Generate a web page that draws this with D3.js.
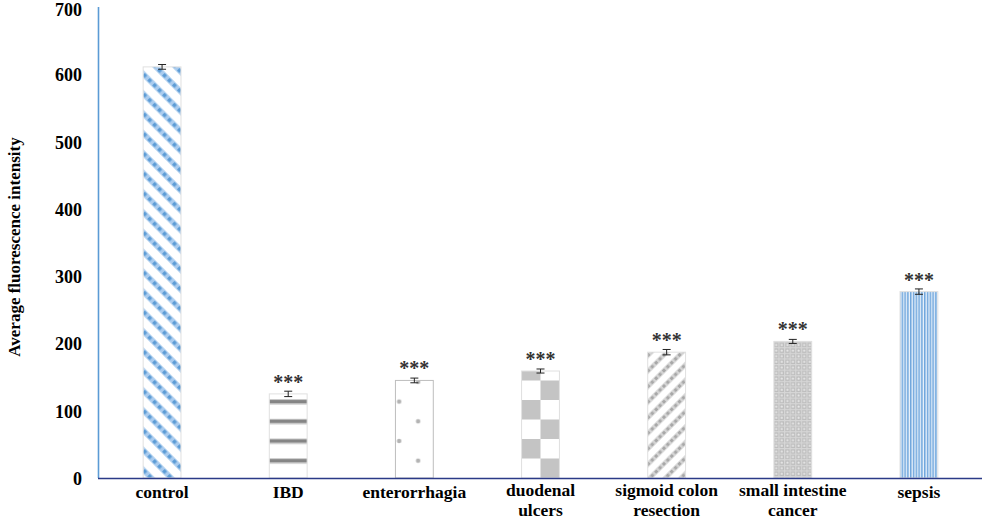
<!DOCTYPE html>
<html>
<head>
<meta charset="utf-8">
<script src="https://cdn.jsdelivr.net/npm/d3@7"></script>
<style>
  html, body { margin: 0; padding: 0; background: #fff; }
  svg { display: block; }
  text { font-family: "Liberation Serif", "Times New Roman", serif; font-weight: bold; }
</style>
</head>
<body>
<svg id="chart" width="982" height="520"></svg>
<script>
const categories = ["control", "IBD", "enterorrhagia", "duodenal ulcers", "sigmoid colon resection", "small intestine cancer", "sepsis"];
const labelLines = [["control"], ["IBD"], ["enterorrhagia"], ["duodenal", "ulcers"], ["sigmoid colon", "resection"], ["small intestine", "cancer"], ["sepsis"]];
const values = [611, 125, 145, 159, 187, 203, 277];
const errors = [3.5, 4, 3.5, 3, 4, 3, 4];
const significance = ["", "***", "***", "***", "***", "***", "***"];
const yTicks = [0, 100, 200, 300, 400, 500, 600, 700];
const patternIds = ["pControl", "pIBD", "pEnter", "pDuod", "pSigm", "pSmall", "pSeps"];

const svg = d3.select("#chart");
const x0 = 99, x1 = 982, yBase = 478, yTop = 7;

const x = d3.scaleBand().domain(categories).range([x0, x1]).paddingInner(0.7).paddingOuter(0.35);
const y = d3.scaleLinear().domain([0, 700]).range([yBase, yTop]);
const bw = x.bandwidth();

// ---------- patterns ----------
const defs = svg.append("defs");

// control: blue dotted diagonal stripes "\"
let p = defs.append("pattern").attr("id", "pControl").attr("patternUnits", "userSpaceOnUse")
  .attr("width", 14).attr("height", 14).attr("patternTransform", "rotate(-45)");
p.append("rect").attr("width", 14).attr("height", 14).attr("fill", "#fff");
p.append("line").attr("x1", 7).attr("x2", 7).attr("y1", 0).attr("y2", 14)
  .attr("stroke", "#a9cbee").attr("stroke-width", 5.5);
p.append("line").attr("x1", 7).attr("x2", 7).attr("y1", 0).attr("y2", 14)
  .attr("stroke", "#5b9bd5").attr("stroke-width", 3.5).attr("stroke-dasharray", "3.5 3.5");

// IBD: horizontal gray bands
p = defs.append("pattern").attr("id", "pIBD").attr("patternUnits", "userSpaceOnUse")
  .attr("x", 0).attr("y", yBase - 17.3 - 2.5).attr("width", 10).attr("height", 19.7);
p.append("rect").attr("width", 10).attr("height", 19.7).attr("fill", "#fff");
p.append("rect").attr("y", -0.5).attr("width", 10).attr("height", 6).attr("fill", "#c4c4c4");
p.append("rect").attr("y", 1).attr("width", 10).attr("height", 3).attr("fill", "#858585");

// enterorrhagia: sparse dots
{
  const bx = x("enterorrhagia");
  p = defs.append("pattern").attr("id", "pEnter").attr("patternUnits", "userSpaceOnUse")
    .attr("x", bx).attr("y", yBase - 17.3 - 9.85).attr("width", bw).attr("height", 39.4);
  p.append("rect").attr("width", bw).attr("height", 39.4).attr("fill", "#fff");
  p.append("circle").attr("cx", 3.7).attr("cy", 9.85 - 19.7 + 39.4).attr("r", 2.3).attr("fill", "#b3b3b3");
  p.append("circle").attr("cx", 22.7).attr("cy", 9.85).attr("r", 2.3).attr("fill", "#b3b3b3");
}

// duodenal: checkerboard
{
  const bx = x("duodenal ulcers");
  const cw = bw / 2, ch = 19.5;
  p = defs.append("pattern").attr("id", "pDuod").attr("patternUnits", "userSpaceOnUse")
    .attr("x", bx).attr("y", yBase).attr("width", bw).attr("height", ch * 2);
  p.append("rect").attr("width", bw).attr("height", ch * 2).attr("fill", "#fff");
  p.append("rect").attr("x", 0).attr("y", 0).attr("width", cw).attr("height", ch).attr("fill", "#c4c4c4");
  p.append("rect").attr("x", cw).attr("y", ch).attr("width", cw).attr("height", ch).attr("fill", "#c4c4c4");
}

// sigmoid: gray dotted diagonal stripes "/"
p = defs.append("pattern").attr("id", "pSigm").attr("patternUnits", "userSpaceOnUse")
  .attr("width", 11).attr("height", 11).attr("patternTransform", "rotate(45)");
p.append("rect").attr("width", 11).attr("height", 11).attr("fill", "#fff");
p.append("line").attr("x1", 5.5).attr("x2", 5.5).attr("y1", 0).attr("y2", 11)
  .attr("stroke", "#d4d4d4").attr("stroke-width", 4.5);
p.append("line").attr("x1", 5.5).attr("x2", 5.5).attr("y1", 0).attr("y2", 11)
  .attr("stroke", "#a8a8a8").attr("stroke-width", 3).attr("stroke-dasharray", "3 2.5");

// small intestine: fine gray dotted grid
p = defs.append("pattern").attr("id", "pSmall").attr("patternUnits", "userSpaceOnUse")
  .attr("width", 5.6).attr("height", 5.6);
p.append("rect").attr("width", 5.6).attr("height", 5.6).attr("fill", "#bdbdbd");
p.append("rect").attr("x", 0).attr("y", 0).attr("width", 5.6).attr("height", 1.2).attr("fill", "#d6d6d6");
p.append("rect").attr("x", 0).attr("y", 0).attr("width", 1.2).attr("height", 5.6).attr("fill", "#d6d6d6");
p.append("circle").attr("cx", 3.4).attr("cy", 3.4).attr("r", 1.1).attr("fill", "#e8e8e8");

// sepsis: fine blue vertical lines
p = defs.append("pattern").attr("id", "pSeps").attr("patternUnits", "userSpaceOnUse")
  .attr("width", 2.8).attr("height", 10);
p.append("rect").attr("width", 2.8).attr("height", 10).attr("fill", "#eaf2fb");
p.append("rect").attr("x", 0).attr("width", 1.5).attr("height", 10).attr("fill", "#6fa6dd");

// ---------- y axis ----------
svg.append("line").attr("x1", 98.5).attr("x2", 98.5).attr("y1", y(700)).attr("y2", yBase)
  .attr("stroke", "#5b9bd5").attr("stroke-width", 1.6);

svg.append("g").selectAll("text").data(yTicks).join("text")
  .attr("x", 82).attr("y", d => Math.max(y(d) + 0.5, 10)).attr("dy", "0.36em")
  .attr("text-anchor", "end").attr("font-size", 18).attr("fill", "#000")
  .text(d => d);

svg.append("text")
  .attr("transform", "translate(20,247) rotate(-90)")
  .attr("text-anchor", "middle").attr("font-size", 17).attr("fill", "#000")
  .text("Average fluorescence intensity");

// ---------- bars ----------
const g = svg.append("g");
g.selectAll("rect.bar").data(categories).join("rect").attr("class", "bar")
  .attr("x", d => x(d)).attr("width", bw)
  .attr("y", (d, i) => y(values[i])).attr("height", (d, i) => yBase - y(values[i]))
  .attr("fill", (d, i) => `url(#${patternIds[i]})`)
  .attr("stroke", (d, i) => i === 2 ? "#bdbdbd" : "#e0e0e0").attr("stroke-width", 1);

// error bars
const eb = g.selectAll("g.err").data(categories).join("g").attr("class", "err");
eb.append("line")
  .attr("x1", d => x(d) + bw / 2).attr("x2", d => x(d) + bw / 2)
  .attr("y1", (d, i) => y(values[i] + errors[i])).attr("y2", (d, i) => y(values[i] - errors[i]))
  .attr("stroke", "#222").attr("stroke-width", 1);
eb.append("line")
  .attr("x1", d => x(d) + bw / 2 - 4).attr("x2", d => x(d) + bw / 2 + 4)
  .attr("y1", (d, i) => y(values[i] + errors[i])).attr("y2", (d, i) => y(values[i] + errors[i]))
  .attr("stroke", "#222").attr("stroke-width", 1);
eb.append("line")
  .attr("x1", d => x(d) + bw / 2 - 4).attr("x2", d => x(d) + bw / 2 + 4)
  .attr("y1", (d, i) => y(values[i] - errors[i])).attr("y2", (d, i) => y(values[i] - errors[i]))
  .attr("stroke", "#222").attr("stroke-width", 1);

// significance stars
g.selectAll("text.sig").data(categories).join("text").attr("class", "sig")
  .attr("x", d => x(d) + bw / 2).attr("y", (d, i) => y(values[i]) - 5)
  .attr("text-anchor", "middle").attr("font-size", 20).attr("fill", "#333")
  .text((d, i) => significance[i]);

// ---------- x axis ----------
svg.append("line").attr("x1", 98).attr("x2", 982).attr("y1", yBase + 0.5).attr("y2", yBase + 0.5)
  .attr("stroke", "#2b3a87").attr("stroke-width", 1.6);

const xl = svg.append("g").selectAll("text").data(categories).join("text")
  .attr("x", d => x(d) + bw / 2).attr("y", (d, i) => labelLines[i].length > 1 ? 496 : 498)
  .attr("text-anchor", "middle").attr("font-size", 17.5).attr("fill", "#000");
xl.each(function (d, i) {
  const t = d3.select(this);
  labelLines[i].forEach((line, k) => {
    t.append("tspan").attr("x", x(d) + bw / 2).attr("dy", k === 0 ? 0 : 20).text(line);
  });
});
</script>
</body>
</html>
